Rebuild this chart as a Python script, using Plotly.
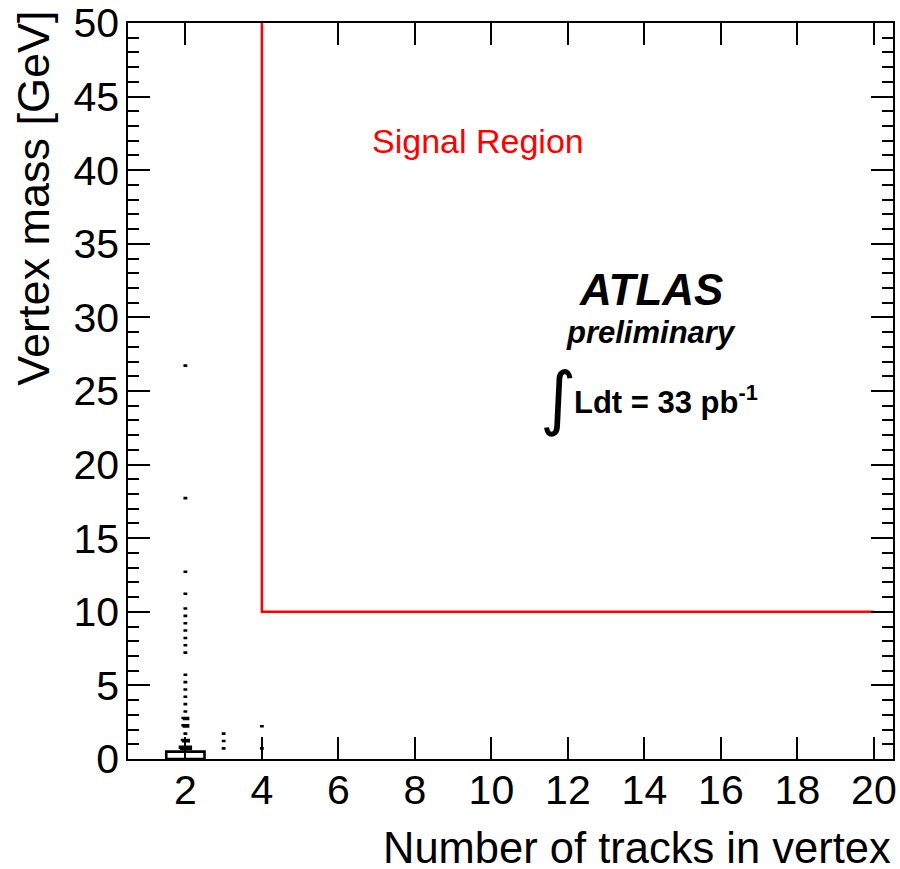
import numpy as np
import plotly.graph_objects as go

# ---- data: 2D histogram (tracks in vertex vs vertex mass), box representation ----
track_bins = [2] * 23 + [3, 3, 3] + [4, 4]
mass_bins = [0.25, 0.75, 1.25, 1.75, 2.25, 2.75, 3.25, 3.75, 4.25, 4.75, 5.25, 5.75,
             7.25, 7.75, 8.25, 8.75, 9.25, 9.75, 10.25, 11.25, 12.75, 17.75, 26.75,
             0.75, 1.25, 1.75,
             0.75, 2.25]
bin_counts = [100, 8, 3, 1, 2, 2, 1, 1, 1, 1, 1, 1,
              1, 1, 1, 1, 1, 1, 1, 1, 1, 1, 1,
              1, 1, 1,
              1, 1]

x_bin_width = 1.0
y_bin_width = 0.5

# signal region definition
sr_min_tracks = 4
sr_min_mass = 10
sr_max_tracks = 20
mass_max = 50

x_tick_vals = list(range(2, 21, 2))

font_family = "Liberation Sans, Arial, Helvetica, sans-serif"

# ---- build box outlines (ROOT "box" style) ----
cmax = max(bin_counts)
bx, by = [], []
for xc, yc, c in zip(track_bins, mass_bins, bin_counts):
    r = np.sqrt(c / cmax)
    hw = 0.5 * x_bin_width * r
    hh = 0.5 * y_bin_width * r
    bx += [xc - hw, xc + hw, xc + hw, xc - hw, xc - hw, None]
    by += [yc - hh, yc - hh, yc + hh, yc + hh, yc - hh, None]

fig = go.Figure()
fig.add_trace(go.Scatter(x=bx, y=by, mode="lines",
                         line=dict(color="black", width=2.6),
                         hoverinfo="skip", showlegend=False))
fig.add_trace(go.Scatter(x=[sr_min_tracks, sr_min_tracks, sr_max_tracks],
                         y=[mass_max, sr_min_mass, sr_min_mass],
                         mode="lines", line=dict(color="#ff0000", width=2.5),
                         showlegend=False, cliponaxis=False))

axis_common = dict(
    showgrid=False, zeroline=False, showline=True, linecolor="black", linewidth=1.5,
    mirror="ticks", ticks="inside", tickcolor="black", tickwidth=1.5, ticklen=22,
    automargin=False, ticklabeloverflow="allow",
    tickfont=dict(family=font_family, size=41, color="black"),
)

fig.update_layout(
    width=900, height=869,
    margin=dict(l=128, r=7, t=23, b=110),
    plot_bgcolor="white", paper_bgcolor="white",
    xaxis=dict(range=[0.5, 20.5], tickvals=x_tick_vals, ticklabelstandoff=-6,
               layer="below traces", **axis_common),
    yaxis=dict(range=[0, 50], dtick=5, ticklabelstandoff=-1,
               minor=dict(dtick=1, ticks="inside", ticklen=11, tickcolor="black",
                          tickwidth=1.5, showgrid=False),
               **axis_common),
    annotations=[
        dict(text="Number of tracks in vertex", xref="paper", yref="paper",
             x=1.0, y=0, xanchor="right", yanchor="middle", yshift=-89, height=42,
             valign="middle",
             showarrow=False, font=dict(family=font_family, size=43.5, color="black")),
        dict(text="Vertex mass [GeV]", xref="paper", yref="paper",
             x=-0.124, y=1, xanchor="center", yanchor="top", yshift=14, textangle=-90,
             showarrow=False, font=dict(family=font_family, size=45, color="black")),
        dict(text="Signal Region", xref="x", yref="y", x=6.83, y=42.0,
             xanchor="left", yanchor="middle", showarrow=False,
             font=dict(family=font_family, size=34, color="#ff0000")),
        dict(text="<b><i>ATLAS</i></b>", xref="x", yref="y", x=14.17, y=31.9,
             xanchor="center", yanchor="middle", showarrow=False,
             font=dict(family=font_family, size=44, color="black")),
        dict(text="<b><i>preliminary</i></b>", xref="x", yref="y", x=14.17, y=29.0,
             xanchor="center", yanchor="middle", showarrow=False,
             font=dict(family=font_family, size=31, color="black")),
        dict(text="∫", xref="x", yref="y", x=11.74, y=24.5,
             xanchor="center", yanchor="middle", showarrow=False,
             font=dict(family="DejaVu Sans", size=70, color="black")),
        dict(text="<b>Ldt = 33 pb<sup>-1</sup></b>", xref="x", yref="y", x=12.1, y=24.4,
             xanchor="left", yanchor="middle", showarrow=False,
             font=dict(family=font_family, size=31, color="black")),
    ],
)

# remove the browser's default 8px body margin so the figure sits at the page origin
fig.write_html(
    "out.html",
    config={"displayModeBar": False},
    post_script=("document.body.style.margin='0';"
                 "document.body.style.overflow='hidden';"
                 "document.documentElement.style.overflow='hidden';"),
)
